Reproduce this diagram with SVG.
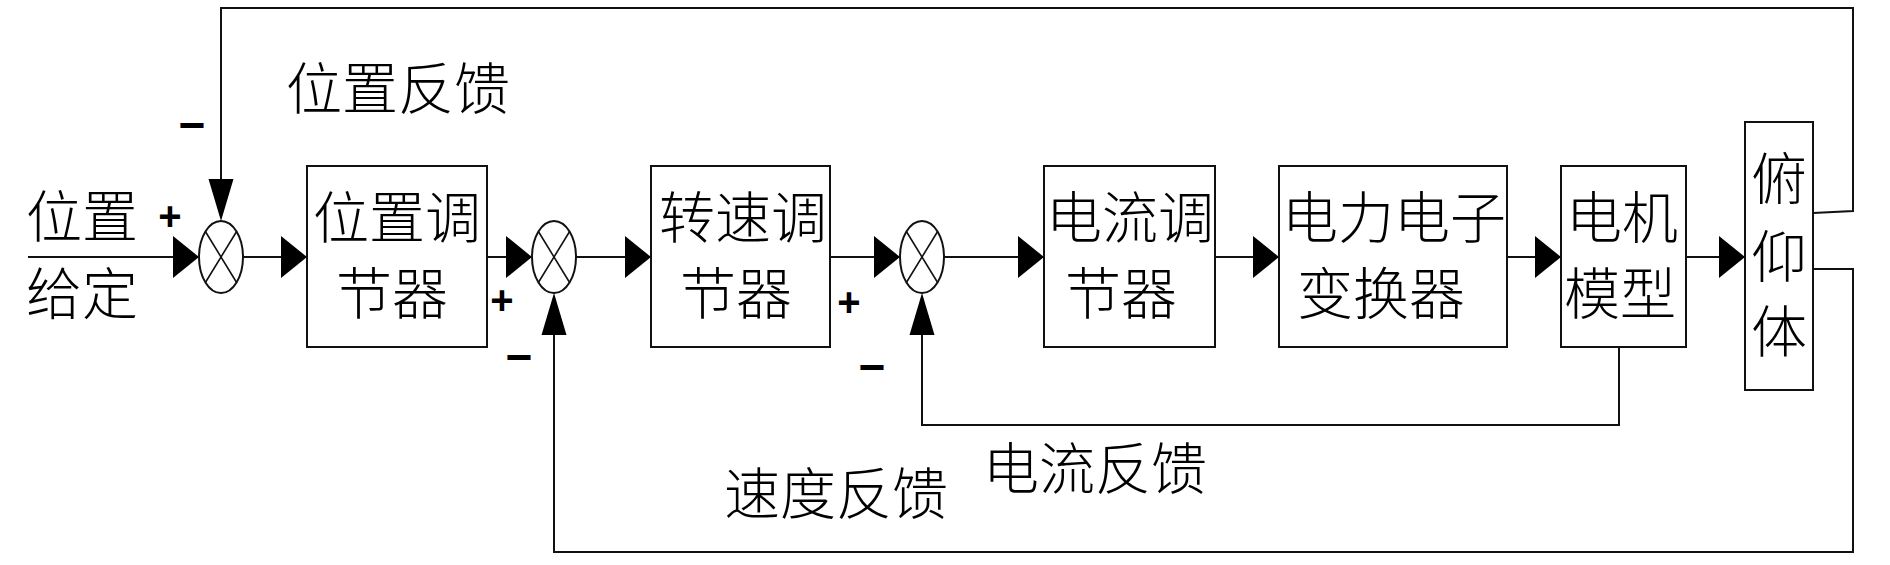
<svg xmlns="http://www.w3.org/2000/svg" width="1890" height="565" viewBox="0 0 1890 565">
<style>
.bg{fill:#fff}
.box{fill:#fff;stroke:#111;stroke-width:2}
.sum{fill:#fff;stroke:#111;stroke-width:2}
.x{stroke:#111;stroke-width:1.6;fill:none}
.ln{fill:none;stroke:#111;stroke-width:2}
.ah{fill:#000}
.t{font-family:"Noto Sans CJK SC","Noto Sans CJK JP",sans-serif;font-size:56px;font-weight:300;fill:#000;text-anchor:middle}
.s{font-family:"Liberation Sans",Arial,sans-serif;font-weight:bold;fill:#000;text-anchor:middle}
</style>
<defs>
<path id="ar" class="ah" d="M0 0 L-26 -21 L-26 21 Z"/>
<path id="au" class="ah" d="M0 0 L-12.5 42 L12.5 42 Z"/>
<path id="ad" class="ah" d="M0 0 L-12.5 -42 L12.5 -42 Z"/>
</defs>
<rect class="bg" x="0" y="0" width="1890" height="565"/>

<g id="connectors">
<path class="ln" d="M28 257 H180"/>
<path class="ln" d="M243 257 H288"/>
<path class="ln" d="M487 257 H514"/>
<path class="ln" d="M576 257 H632"/>
<path class="ln" d="M830 257 H882"/>
<path class="ln" d="M944 257 H1026"/>
<path class="ln" d="M1215 257 H1260"/>
<path class="ln" d="M1507 257 H1541"/>
<path class="ln" d="M1686 257 H1726"/>
<path class="ln" d="M1813 213 L1853 211 V8 H221 V190"/>
<path class="ln" d="M1813 269 H1853 V552 H554 V320"/>
<path class="ln" d="M1619 347 V425 H922 V320"/>
<use href="#ar" x="199" y="257"/>
<use href="#ar" x="307" y="257"/>
<use href="#ar" x="532" y="257"/>
<use href="#ar" x="651" y="257"/>
<use href="#ar" x="900" y="257"/>
<use href="#ar" x="1044" y="257"/>
<use href="#ar" x="1279" y="257"/>
<use href="#ar" x="1561" y="257"/>
<use href="#ar" x="1745" y="257"/>
<use href="#ad" x="221" y="221"/>
<use href="#au" x="554" y="293"/>
<use href="#au" x="922" y="293"/>
</g>

<g id="input">
<text class="t" x="82" y="237">位置</text>
<text class="t" x="82" y="314">给定</text>
</g>

<g id="sum1">
<ellipse class="sum" cx="221" cy="257" rx="22" ry="36"/>
<path class="x" d="M205.4 231.5 L236.6 282.5 M236.6 231.5 L205.4 282.5"/>
</g>
<g id="sum2">
<ellipse class="sum" cx="554" cy="257" rx="22" ry="36"/>
<path class="x" d="M538.4 231.5 L569.6 282.5 M569.6 231.5 L538.4 282.5"/>
</g>
<g id="sum3">
<ellipse class="sum" cx="922" cy="257" rx="22" ry="36"/>
<path class="x" d="M906.4 231.5 L937.6 282.5 M937.6 231.5 L906.4 282.5"/>
</g>

<g id="pos-reg">
<rect class="box" x="307" y="166" width="180" height="181"/>
<text class="t" x="397" y="238">位置调</text>
<text class="t" x="392" y="314">节器</text>
</g>
<g id="speed-reg">
<rect class="box" x="651" y="166" width="179" height="181"/>
<text class="t" x="743" y="238">转速调</text>
<text class="t" x="736" y="314">节器</text>
</g>
<g id="current-reg">
<rect class="box" x="1044" y="166" width="171" height="181"/>
<text class="t" x="1130" y="238">电流调</text>
<text class="t" x="1121" y="314">节器</text>
</g>
<g id="power-conv">
<rect class="box" x="1279" y="166" width="228" height="181"/>
<text class="t" x="1394" y="238">电力电子</text>
<text class="t" x="1381" y="314">变换器</text>
</g>
<g id="motor">
<rect class="box" x="1561" y="166" width="125" height="181"/>
<text class="t" x="1622" y="238">电机</text>
<text class="t" x="1620" y="314">模型</text>
</g>
<g id="pitch">
<rect class="box" x="1745" y="122" width="68" height="268"/>
<text class="t" x="1779" y="199">俯</text>
<text class="t" x="1779" y="277">仰</text>
<text class="t" x="1779" y="352">体</text>
</g>

<g id="labels">
<text class="t" x="398" y="109">位置反馈</text>
<text class="t" x="836" y="514">速度反馈</text>
<text class="t" x="1095" y="489">电流反馈</text>
</g>

<g id="signs">
<text class="s" x="170" y="230" font-size="40">+</text>
<text class="s" x="192" y="141" font-size="46">−</text>
<text class="s" x="502" y="314" font-size="40">+</text>
<text class="s" x="519" y="373" font-size="46">−</text>
<text class="s" x="849" y="316" font-size="40">+</text>
<text class="s" x="872" y="383" font-size="46">−</text>
</g>
</svg>
